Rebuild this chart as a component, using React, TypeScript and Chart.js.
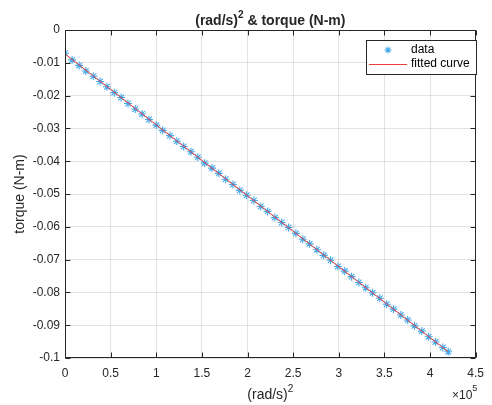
import { useEffect, useRef } from "react";
import { Chart, registerables } from "chart.js";
Chart.register(...registerables);

const xData = [
  0, 7800, 15500, 22800, 31000, 38500, 46000, 54000, 61500, 69000,
  77000, 84500, 92000, 100000, 107000, 115000, 122500, 130000, 138000, 145500,
  153000, 161000, 168500, 176000, 184000, 191500, 199000, 207000, 214500, 222000,
  230000, 237500, 245000, 253000, 260500, 268000, 276000, 283500, 291000, 299000,
  306500, 314000, 322000, 329500, 337000, 345000, 352500, 360000, 368000, 375500,
  383000, 391000, 398500, 406000, 414000, 420000,
];
const yData = [
  -0.0071, -0.0091, -0.0108, -0.0125, -0.0141, -0.0157, -0.0173, -0.0191, -0.0206, -0.0224,
  -0.0241, -0.0256, -0.0273, -0.0290, -0.0306, -0.0322, -0.0339, -0.0355, -0.0371, -0.0388,
  -0.0406, -0.0421, -0.0437, -0.0455, -0.0471, -0.0489, -0.0504, -0.0520, -0.0538, -0.0553,
  -0.0572, -0.0587, -0.0602, -0.0620, -0.0638, -0.0652, -0.0670, -0.0687, -0.0702, -0.0721,
  -0.0735, -0.0752, -0.0770, -0.0786, -0.0801, -0.0818, -0.0836, -0.0851, -0.0869, -0.0884,
  -0.0902, -0.0918, -0.0935, -0.0951, -0.0968, -0.0981,
];
const fitX = [0, 420000];
const fitY = [-0.0073, -0.0981];
const xTickStep = 50000;
const yTickStep = 0.01;
const titleMain = "(rad/s)";
const titleSup = "2";
const titleRest = " & torque (N-m)";
const xLabelMain = "(rad/s)";
const xLabelSup = "2";
const yLabel = "torque (N-m)";
const expBase = "\u00d710";
const expSup = "5";
const legendLabels = ["data", "fitted curve"];

const FONT = '"Liberation Sans", Arial, Helvetica, sans-serif';
const AX = "#262626";
const BLUE = "rgb(70,170,235)";
const RED = "rgb(232,60,60)";

function drawStar(ctx: CanvasRenderingContext2D, x: number, y: number, r: number) {
  ctx.beginPath();
  ctx.moveTo(x - r, y); ctx.lineTo(x + r, y);
  ctx.moveTo(x, y - r); ctx.lineTo(x, y + r);
  const d = r * 0.7071;
  ctx.moveTo(x - d, y - d); ctx.lineTo(x + d, y + d);
  ctx.moveTo(x - d, y + d); ctx.lineTo(x + d, y - d);
  ctx.stroke();
}

function drawSupText(ctx: CanvasRenderingContext2D, parts: [string, string, string], cx: number, cy: number, size: number, bold: boolean) {
  const w = bold ? "bold " : "";
  const big = `${w}${size}px ${FONT}`;
  const small = `${w}${Math.round(size * 0.72)}px ${FONT}`;
  ctx.font = big; const w1 = ctx.measureText(parts[0]).width; const w3 = ctx.measureText(parts[2]).width;
  ctx.font = small; const w2 = ctx.measureText(parts[1]).width;
  let x = cx - (w1 + w2 + w3) / 2;
  ctx.textAlign = "left"; ctx.textBaseline = "middle";
  ctx.font = big; ctx.fillText(parts[0], x, cy); x += w1;
  ctx.font = small; ctx.fillText(parts[1], x, cy - size * 0.4); x += w2;
  ctx.font = big; ctx.fillText(parts[2], x, cy);
}

const deco = {
  id: "deco",
  afterDraw(chart: any) {
    const { ctx, chartArea: a, scales } = chart;
    const L = Math.round(a.left) + 0.5, R = Math.round(a.right) - 0.5;
    const T = Math.round(a.top) + 0.5, B = Math.round(a.bottom) - 0.5;
    ctx.save();
    ctx.strokeStyle = AX; ctx.lineWidth = 1;
    ctx.strokeRect(L, T, R - L, B - T);
    const tl = 5;
    ctx.beginPath();
    scales.x.ticks.forEach((t: any) => {
      const px = Math.round(scales.x.getPixelForValue(t.value)) + 0.5;
      ctx.moveTo(px, B); ctx.lineTo(px, B - tl);
      ctx.moveTo(px, T); ctx.lineTo(px, T + tl);
    });
    scales.y.ticks.forEach((t: any) => {
      const py = Math.round(scales.y.getPixelForValue(t.value)) + 0.5;
      ctx.moveTo(L, py); ctx.lineTo(L + tl, py);
      ctx.moveTo(R, py); ctx.lineTo(R - tl, py);
    });
    ctx.stroke();

    ctx.fillStyle = AX;
    const cx = (a.left + a.right) / 2;
    drawSupText(ctx, [titleMain, titleSup, titleRest], cx, 21, 14, true);
    drawSupText(ctx, [xLabelMain, xLabelSup, ""], cx, 395, 14, false);
    // exponent
    ctx.font = `12px ${FONT}`; ctx.textAlign = "left"; ctx.textBaseline = "middle";
    const wb = ctx.measureText(expBase).width;
    ctx.fillText(expBase, 452, 396);
    ctx.font = `9px ${FONT}`;
    ctx.fillText(expSup, 452 + wb, 389);
    // y label
    ctx.save();
    ctx.translate(20, (a.top + a.bottom) / 2);
    ctx.rotate(-Math.PI / 2);
    ctx.font = `14px ${FONT}`; ctx.textAlign = "center"; ctx.textBaseline = "middle";
    ctx.fillText(yLabel, 0, 0);
    ctx.restore();
    // legend
    ctx.fillStyle = "#ffffff";
    ctx.fillRect(366.5, 40.5, 110, 34);
    ctx.strokeStyle = AX;
    ctx.strokeRect(366.5, 40.5, 110, 34);
    ctx.strokeStyle = BLUE; ctx.lineWidth = 1.1;
    drawStar(ctx, 388, 50, 3.5);
    ctx.strokeStyle = RED; ctx.lineWidth = 1;
    ctx.beginPath(); ctx.moveTo(369, 64.5); ctx.lineTo(407, 64.5); ctx.stroke();
    ctx.fillStyle = "#000000";
    ctx.font = `12px ${FONT}`; ctx.textAlign = "left"; ctx.textBaseline = "middle";
    ctx.fillText(legendLabels[0], 411, 50);
    ctx.fillText(legendLabels[1], 411, 64);
    ctx.restore();
  },
};

export default function App() {
  const ref = useRef<HTMLCanvasElement>(null);
  useEffect(() => {
    document.body.style.margin = "0";
    const points = xData.map((x, i) => ({ x, y: yData[i] }));
    const fit = fitX.map((x, i) => ({ x, y: fitY[i] }));
    const chart = new Chart(ref.current!, {
      type: "scatter",
      data: {
        datasets: [
          {
            type: "line",
            label: legendLabels[1],
            data: fit,
            borderColor: RED,
            borderWidth: 1,
            pointRadius: 0,
            showLine: true,
            fill: false,
          } as any,
          {
            label: legendLabels[0],
            data: points,
            pointStyle: "star",
            radius: 4,
            borderColor: BLUE,
            backgroundColor: BLUE,
            borderWidth: 1.1,
            showLine: false,
          } as any,
        ],
      },
      options: {
        animation: false,
        responsive: false,
        layout: { padding: { top: 30, right: 9, left: 0, bottom: 0 } },
        plugins: { legend: { display: false }, title: { display: false }, tooltip: { enabled: false } },
        scales: {
          x: {
            type: "linear",
            min: 0,
            max: 450000,
            afterFit: (s: any) => { s.height = 47; },
            grid: { color: "rgba(38,38,38,0.13)", drawTicks: false },
            border: { display: false },
            ticks: {
              stepSize: xTickStep,
              padding: 8,
              color: AX,
              font: { family: FONT, size: 12 },
              callback: (v: any) => String(Math.round(Number(v) / 1e4) / 10),
            },
          },
          y: {
            type: "linear",
            min: -0.1,
            max: 0,
            afterFit: (s: any) => { s.width = 65; },
            grid: { color: "rgba(38,38,38,0.13)", drawTicks: false },
            border: { display: false },
            ticks: {
              stepSize: yTickStep,
              padding: 5,
              color: AX,
              font: { family: FONT, size: 12 },
              callback: (v: any) => String(parseFloat(Number(v).toFixed(2))),
            },
          },
        },
      },
      plugins: [deco],
    });
    return () => chart.destroy();
  }, []);
  return (
    <div style={{ position: "absolute", left: 0, top: 0, width: 492, height: 405 }}>
      <canvas ref={ref} width={492} height={405} />
    </div>
  );
}
